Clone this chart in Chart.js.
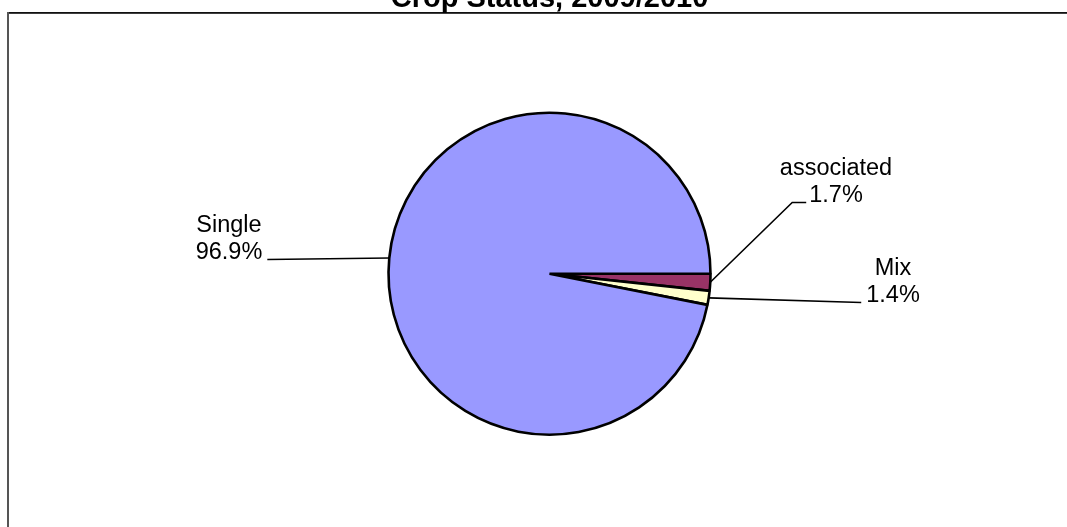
<!DOCTYPE html>
<html>
<head>
<meta charset="utf-8">
<title>Crop Status, 2009/2010</title>
<script src="https://cdn.jsdelivr.net/npm/chart.js@4"></script>
<style>
  html, body { margin: 0; padding: 0; background: #fff; overflow: hidden; }
  #wrap { position: relative; width: 1067px; height: 527px; }
</style>
</head>
<body>
<div id="wrap"><canvas id="pie"></canvas></div>
<script>
"use strict";

const TITLE = "Crop Status, 2009/2010";
const categories = ["associated", "Mix", "Single"];
const shares = [1.7, 1.4, 96.9];
const colors = ["#993366", "#FFFFCC", "#9999FF"];

// where the data labels sit: centre x of the text block, baseline of the % line
const labelLayout = [
  { cx: 836, base: 202, side: "left", elbow: 14, gap: 3 },
  { cx: 893, base: 302, side: "left", elbow: 0, gap: 5 },
  { cx: 229, base: 259, side: "right", elbow: 0, gap: 5 },
];

const FONT = '"Liberation Sans", Arial, sans-serif';

// frame + clipped title, drawn behind the pie
const framePlugin = {
  id: "frame",
  beforeDraw(chart) {
    const { ctx, width, height } = chart;
    ctx.save();
    ctx.fillStyle = "#111";
    ctx.fillRect(7, 12, width, 1.8);
    ctx.fillStyle = "#555";
    ctx.fillRect(7, 12, 2, height);
    ctx.fillStyle = "#000";
    ctx.font = "bold 29px " + FONT;
    ctx.textAlign = "center";
    ctx.textBaseline = "alphabetic";
    ctx.fillText(TITLE, 549.5, 7);
    ctx.restore();
  },
};

// outside labels with leader lines
const labelPlugin = {
  id: "outLabels",
  afterDatasetsDraw(chart) {
    const { ctx } = chart;
    const arcs = chart.getDatasetMeta(0).data;
    ctx.save();
    ctx.font = "23.5px " + FONT;
    ctx.textAlign = "center";
    ctx.textBaseline = "alphabetic";
    ctx.fillStyle = "#000";
    ctx.strokeStyle = "#000";
    ctx.lineWidth = 1.6;
    arcs.forEach((arc, i) => {
      const p = arc.getProps(["x", "y", "startAngle", "endAngle", "outerRadius"], true);
      const mid = (p.startAngle + p.endAngle) / 2;
      const sx = p.x + Math.cos(mid) * p.outerRadius;
      const sy = p.y + Math.sin(mid) * p.outerRadius;
      const lay = labelLayout[i];
      const pct = shares[i].toFixed(1) + "%";
      const w = ctx.measureText(pct).width;
      const ey = lay.base + 0.5;
      const ex = lay.side === "left" ? lay.cx - w / 2 - lay.gap : lay.cx + w / 2 + lay.gap;
      ctx.beginPath();
      ctx.moveTo(sx, sy);
      if (lay.elbow) {
        const kx = lay.side === "left" ? ex - lay.elbow : ex + lay.elbow;
        ctx.lineTo(kx, ey);
      }
      ctx.lineTo(ex, ey);
      ctx.stroke();
      ctx.fillText(categories[i], lay.cx, lay.base - 27);
      ctx.fillText(pct, lay.cx, lay.base);
    });
    ctx.restore();
  },
};

new Chart(document.getElementById("pie"), {
  type: "pie",
  data: {
    labels: categories,
    datasets: [
      {
        data: shares,
        backgroundColor: colors,
        borderColor: "#000",
        borderWidth: 2.6,
      },
    ],
  },
  options: {
    responsive: true,
    maintainAspectRatio: false,
    animation: false,
    rotation: 90,
    radius: 161,
    layout: { padding: { left: 380, right: 348, top: 110, bottom: 89.6 } },
    events: [],
    plugins: {
      legend: { display: false },
      tooltip: { enabled: false },
      title: { display: false },
    },
  },
  plugins: [framePlugin, labelPlugin],
});
</script>
</body>
</html>
